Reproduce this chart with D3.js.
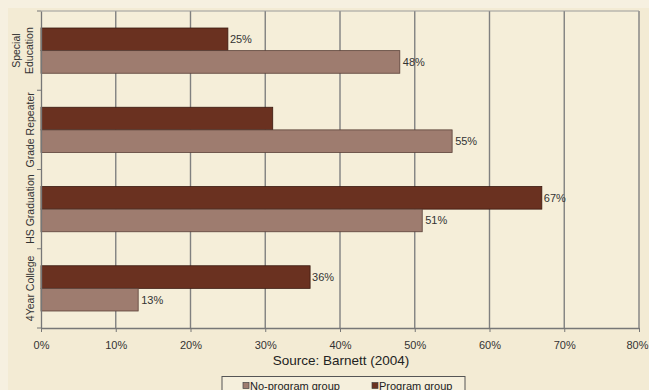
<!DOCTYPE html>
<html><head><meta charset="utf-8">
<script src="https://cdn.jsdelivr.net/npm/d3@7"></script>
<style>
html,body{margin:0;padding:0;background:#F6F0E0;}
svg{display:block;font-family:"Liberation Sans",Arial,sans-serif;}
</style></head>
<body>
<svg id="chart" width="649" height="390"></svg>
<script>
const categories = ["Special Education", "Grade Repeater", "HS Graduation", "4Year College"];
const categoryLines = [["Special", "Education"], ["Grade Repeater"], ["HS Graduation"], ["4Year College"]];
const programValues = [25, 31, 67, 36];
const programLabels = ["25%", "", "67%", "36%"];
const noProgramValues = [48, 55, 51, 13];
const noProgramLabels = ["48%", "55%", "51%", "13%"];
const seriesNames = ["No-program group", "Program group"];
const xTicks = [0, 10, 20, 30, 40, 50, 60, 70, 80];
const sourceText = "Source: Barnett (2004)";

(function () {
const colors = {program: "#6A3120", noProgram: "#9E7C6F"};
const svg = d3.select("#chart");
svg.append("rect").attr("x", 8).attr("y", 8).attr("width", 641).attr("height", 382).attr("fill", "#F3EBD4");

const pL = 41, pR = 639, pT = 11, pB = 328;
const x = d3.scaleLinear().domain([0, 80]).range([pL, pR]);
const y = d3.scaleBand().domain(categories).range([pT, pB]);
const inner = d3.scaleBand().domain(["program", "noProgram"]).range([17, y.bandwidth() - 17]);

svg.append("rect").attr("x", pL).attr("y", pT).attr("width", pR - pL).attr("height", pB - pT)
  .attr("fill", "#F5EED9");

svg.append("g").selectAll("line").data(xTicks.slice(1)).join("line")
  .attr("x1", d => x(d)).attr("x2", d => x(d)).attr("y1", pT).attr("y2", pB)
  .attr("stroke", "#808080").attr("stroke-width", 1.4);
svg.append("line").attr("x1", pL).attr("x2", pR).attr("y1", pT).attr("y2", pT)
  .attr("stroke", "#9a9a9a").attr("stroke-width", 1);

const data = categories.map((c, i) => ({c, i}));
const g = svg.append("g");
g.selectAll(".p").data(data).join("rect")
  .attr("x", x(0)).attr("y", d => y(d.c) + inner("program"))
  .attr("width", d => x(programValues[d.i]) - x(0)).attr("height", inner.bandwidth())
  .attr("fill", colors.program).attr("stroke", "#3a1a10").attr("stroke-width", 0.8);
g.selectAll(".n").data(data).join("rect")
  .attr("x", x(0)).attr("y", d => y(d.c) + inner("noProgram"))
  .attr("width", d => x(noProgramValues[d.i]) - x(0)).attr("height", inner.bandwidth())
  .attr("fill", colors.noProgram).attr("stroke", "#5a4038").attr("stroke-width", 0.8);

g.selectAll(".pl").data(data).join("text")
  .attr("x", d => x(programValues[d.i]) + 2).attr("y", d => y(d.c) + inner("program") + inner.bandwidth() / 2 + 4)
  .attr("font-size", 11).attr("fill", "#333").text(d => programLabels[d.i]);
g.selectAll(".nl").data(data).join("text")
  .attr("x", d => x(noProgramValues[d.i]) + 3).attr("y", d => y(d.c) + inner("noProgram") + inner.bandwidth() / 2 + 4)
  .attr("font-size", 11).attr("fill", "#333").text(d => noProgramLabels[d.i]);

const xAxis = d3.axisBottom(x).tickValues(xTicks).tickFormat(d => d + "%").tickSize(4).tickSizeOuter(0);
const xg = svg.append("g").attr("transform", `translate(0,${pB})`).call(xAxis);
xg.select(".domain").attr("stroke", "#777").attr("stroke-width", 1.3);
xg.selectAll(".tick line").attr("stroke", "#777");
xg.selectAll("text").attr("font-size", 11).attr("fill", "#333").attr("dy", "1.3em")
  .attr("font-family", "Liberation Sans, Arial, sans-serif");
xg.selectAll(".tick").filter(d => d === 80).select("text").attr("text-anchor", "end").attr("dx", 9);

const yAxis = d3.axisLeft(y).tickValues([]).tickSizeOuter(0);
const yg = svg.append("g").attr("transform", `translate(${pL},0)`).call(yAxis);
yg.select(".domain").attr("stroke", "#777").attr("stroke-width", 1.3);
svg.append("g").selectAll("line").data(categories.concat(["__end"])).join("line")
  .attr("x1", pL - 4).attr("x2", pL)
  .attr("y1", (d, i) => i < categories.length ? y(d) : pB).attr("y2", (d, i) => i < categories.length ? y(d) : pB)
  .attr("stroke", "#777");

data.forEach(d => {
  const lines = categoryLines[d.i];
  const cy = y(d.c) + y.bandwidth() / 2;
  const t = svg.append("text").attr("transform", `translate(${lines.length > 1 ? 20 : 34},${cy}) rotate(-90)`)
    .attr("text-anchor", "middle").attr("font-size", 10.5).attr("fill", "#333");
  lines.forEach((ln, k) => t.append("tspan").attr("x", 0).attr("dy", k === 0 ? 0 : 13).text(ln));
});

svg.append("text").attr("x", 341).attr("y", 365).attr("text-anchor", "middle")
  .attr("font-size", 13.5).attr("fill", "#222").text(sourceText);

const lg = svg.append("g");
lg.append("rect").attr("x", 222).attr("y", 376.5).attr("width", 243).attr("height", 20)
  .attr("fill", "#F5EFDC").attr("stroke", "#555").attr("stroke-width", 1);
const legendItems = [{name: seriesNames[0], color: colors.noProgram, x: 243}, {name: seriesNames[1], color: colors.program, x: 372}];
legendItems.forEach(it => {
  lg.append("rect").attr("x", it.x).attr("y", 382.5).attr("width", 6).attr("height", 6)
    .attr("fill", it.color).attr("stroke", "#444").attr("stroke-width", 0.7);
  lg.append("text").attr("x", it.x + 7).attr("y", 389.5).attr("font-size", 11).attr("fill", "#222").text(it.name);
});
})();
</script>
</body></html>
